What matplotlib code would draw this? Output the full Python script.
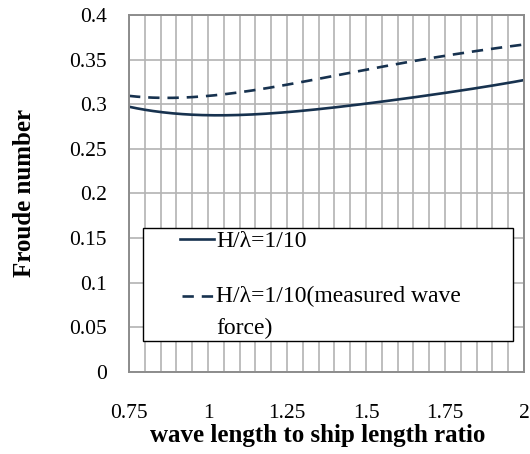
import numpy as np
import matplotlib
matplotlib.use("Agg")
import matplotlib.pyplot as plt
from matplotlib.legend_handler import HandlerLine2D

plt.rcParams['font.family'] = ['Liberation Serif', 'DejaVu Serif']

# wave length / ship length ratio
ratio = [0.75, 0.85, 0.95, 1.0, 1.1, 1.25, 1.5, 1.75, 2.0]
# Froude number, H/lambda = 1/10
fn_calc = [0.297, 0.292, 0.288, 0.287, 0.288, 0.292, 0.300, 0.313, 0.327]
# Froude number, measured wave force
fn_meas = [0.309, 0.308, 0.308, 0.309, 0.313, 0.322, 0.339, 0.354, 0.367]

xticks = [0.75, 1, 1.25, 1.5, 1.75, 2]
xtick_labels = ['0.75', '1', '1.25', '1.5', '1.75', '2']
yticks = [0, 0.05, 0.1, 0.15, 0.2, 0.25, 0.3, 0.35, 0.4]
ytick_labels = ['0', '0.05', '0.1', '0.15', '0.2', '0.25', '0.3', '0.35', '0.4']

line_color = '#17324f'


# legend handle: short line at the right end of the handle box,
# optionally raised to sit on the first line of a two-line label
class ShortHandle(HandlerLine2D):
    def __init__(self, seg, dy=0.0, **kw):
        super().__init__(**kw)
        self.seg = seg
        self.dy = dy

    def create_artists(self, legend, orig_handle, xdescent, ydescent,
                       width, height, fontsize, trans):
        arts = super().create_artists(legend, orig_handle, xdescent, ydescent,
                                      width, height, fontsize, trans)
        for a in arts:
            x = np.asarray(a.get_xdata(), float)
            y = np.asarray(a.get_ydata(), float)
            if len(x) > 1:
                a.set_xdata(np.linspace(width - self.seg, width, len(x)))
            a.set_ydata(y + self.dy)
        return arts


fig = plt.figure(figsize=(5.3, 4.54), dpi=100)
ax = fig.add_axes([0.2434, 0.1806, 0.7453, 0.7864])

# smooth the curves a little like the spreadsheet smoothing
xs = np.linspace(0.75, 2.0, 200)
def smooth(x, y):
    c = np.polyfit(x, y, 4)
    return np.polyval(c, xs)

l1, = ax.plot(xs, smooth(ratio, fn_calc), color=line_color, lw=1.9,
              label='H/λ=1/10')
l2, = ax.plot(xs, smooth(ratio, fn_meas), color=line_color, lw=1.9,
              dashes=(4.3, 3.0), label='H/λ=1/10(measured wave\nforce)')

ax.set_xlim(0.75, 2)
ax.set_ylim(0, 0.4)
ax.set_xticks(xticks)
ax.set_xticklabels(xtick_labels)
ax.set_yticks(yticks)
ax.set_yticklabels(ytick_labels)
ax.set_xticks(np.arange(0.75, 2.0001, 0.05), minor=True)
ax.grid(which='both', color='#b3b3b3', lw=1.2)
ax.set_axisbelow(True)
ax.tick_params(which='both', length=0)
ax.tick_params(axis='x', pad=23, labelsize=15.5)
ax.tick_params(axis='y', pad=16, labelsize=15.5)
for s in ax.spines.values():
    s.set_color('#8c8c8c')
    s.set_linewidth(1.4)

ax.set_xlabel('wave length to ship length ratio', fontsize=18,
              fontweight='bold', labelpad=1)
ax.xaxis.label.set_x(0.477)
ax.set_ylabel('Froude number', fontsize=18, fontweight='bold', labelpad=24)

fs = 17
leg = ax.legend(handles=[l1, l2], loc='upper left',
                bbox_to_anchor=(0.035, 0.403, 0.937, 0.0),
                mode='expand', fontsize=fs, frameon=True, fancybox=False,
                edgecolor='black', framealpha=1, handlelength=2.9,
                handletextpad=0.1, labelspacing=1.45, borderpad=0.1,
                borderaxespad=0,
                handler_map={l1: ShortHandle(24.5),
                             l2: ShortHandle(23.0, dy=12.0)})
leg.get_frame().set_linewidth(1.0)
for t in leg.get_texts():
    t.set_linespacing(1.65)

fig.savefig('out.png', dpi=100)
